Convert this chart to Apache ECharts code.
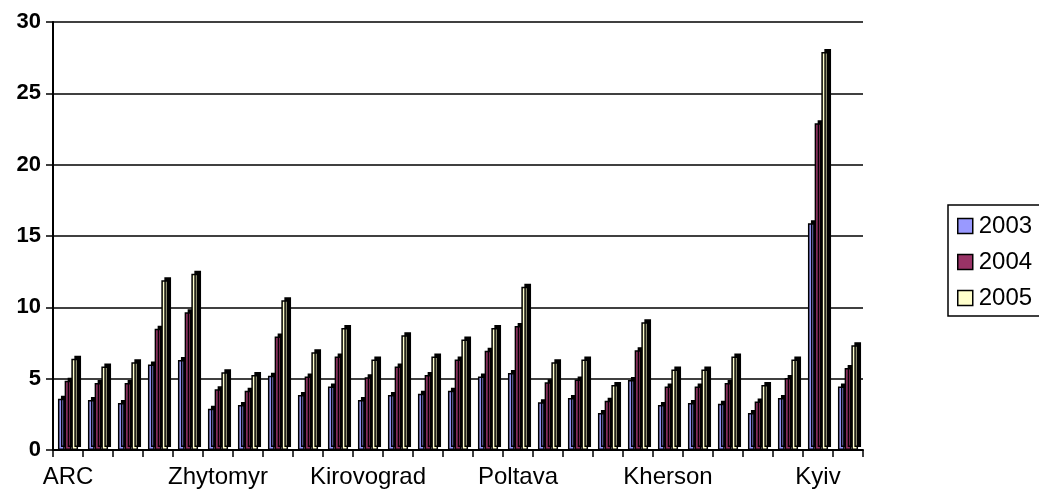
<!DOCTYPE html>
<html>
<head>
<meta charset="utf-8">
<script src="https://cdn.jsdelivr.net/npm/echarts@6/dist/echarts.min.js"></script>
<style>html,body{margin:0;padding:0;background:#fff}#c{width:1039px;height:491px}</style>
</head>
<body>
<div id="c"></div>
<script>
var categories = ['ARC','Vinnytsia','Volyn','Dnipropetrovsk','Donetsk','Zhytomyr','Zakarpattia','Zaporizhzhia','Ivano-Frankivsk','Kyiv oblast','Kirovograd','Luhansk','Lviv','Mykolaiv','Odesa','Poltava','Rivne','Sumy','Ternopil','Kharkiv','Kherson','Khmelnytskyi','Cherkasy','Chernivtsi','Chernihiv','Kyiv','Sevastopol'];
var labelNames = ['ARC','','','','','Zhytomyr','','','','','Kirovograd','','','','','Poltava','','','','','Kherson','','','','','Kyiv',''];
var s2003 = [3.6,3.5,3.3,6.0,6.3,2.9,3.15,5.2,3.85,4.45,3.5,3.85,3.95,4.15,5.15,5.4,3.35,3.65,2.6,4.9,3.15,3.3,3.25,2.6,3.65,15.9,4.45];
var s2004 = [4.85,4.7,4.7,8.5,9.65,4.25,4.15,7.95,5.15,6.55,5.1,5.85,5.25,6.35,6.95,8.7,4.75,4.95,3.45,7.0,4.45,4.45,4.7,3.4,5.05,22.9,5.75];
var s2005 = [6.4,5.85,6.15,11.9,12.35,5.45,5.25,10.5,6.85,8.55,6.35,8.05,6.55,7.75,8.55,11.45,6.15,6.35,4.55,8.95,5.65,5.65,6.55,4.55,6.35,27.9,7.35];
var yTicks = [0,5,10,15,20,25,30];
var seriesNames = ['2003','2004','2005'];
var colors = ['#9999FF','#993366','#FFFFCC'];

var chart = echarts.init(document.getElementById('c'), null, {renderer:'canvas'});
var data = [s2003, s2004, s2005];
var series = data.map(function(d,i){
  return {
    name: seriesNames[i],
    type: 'bar',
    data: d,
    barGap: '0%',
    barCategoryGap: '33%',
    itemStyle: {
      color: colors[i],
      borderColor: '#000',
      borderWidth: 1.5,
      shadowColor: '#000',
      shadowBlur: 0,
      shadowOffsetX: 3,
      shadowOffsetY: -3
    },
    emphasis: {disabled: true}
  };
});
chart.setOption({
  animation: false,
  backgroundColor: '#fff',
  grid: {left: 53, right: 176, top: 22, bottom: 41, containLabel: false},
  legend: {
    orient: 'vertical',
    left: 948,
    top: 205,
    padding: [9, 20, 6, 9],
    itemWidth: 15,
    itemHeight: 15,
    itemGap: 12,
    icon: 'rect',
    borderColor: '#000',
    borderWidth: 1.5,
    data: seriesNames,
    itemStyle: {borderColor: '#000', borderWidth: 1.5, shadowColor: 'rgba(0,0,0,0)', shadowOffsetX: 0, shadowOffsetY: 0},
    textStyle: {fontFamily: 'Liberation Sans, Arial, sans-serif', fontSize: 24, color: '#000', lineHeight: 24, padding: [0,0,0,1]}
  },
  xAxis: {
    type: 'category',
    data: categories,
    axisLine: {lineStyle: {color: '#000', width: 2}},
    axisTick: {show: true, interval: 0, length: 7, lineStyle: {color: '#000', width: 1.5}},
    axisLabel: {
      interval: 0,
      margin: 15,
      color: '#000',
      fontFamily: 'Liberation Sans, Arial, sans-serif',
      fontSize: 24,
      formatter: function(v, idx){ return labelNames[idx]; }
    },
    splitLine: {show: false}
  },
  yAxis: {
    type: 'value',
    min: yTicks[0],
    max: yTicks[yTicks.length-1],
    interval: 5,
    axisLine: {show: true, lineStyle: {color: '#000', width: 2}},
    axisTick: {show: true, length: 7, lineStyle: {color: '#000', width: 1.5}},
    axisLabel: {
      margin: 12,
      color: '#000',
      fontFamily: 'Liberation Sans, Arial, sans-serif',
      fontSize: 22,
      fontWeight: 'bold'
    },
    splitLine: {show: true, lineStyle: {color: '#000', width: 1.5}}
  },
  series: series
});
</script>
</body>
</html>
